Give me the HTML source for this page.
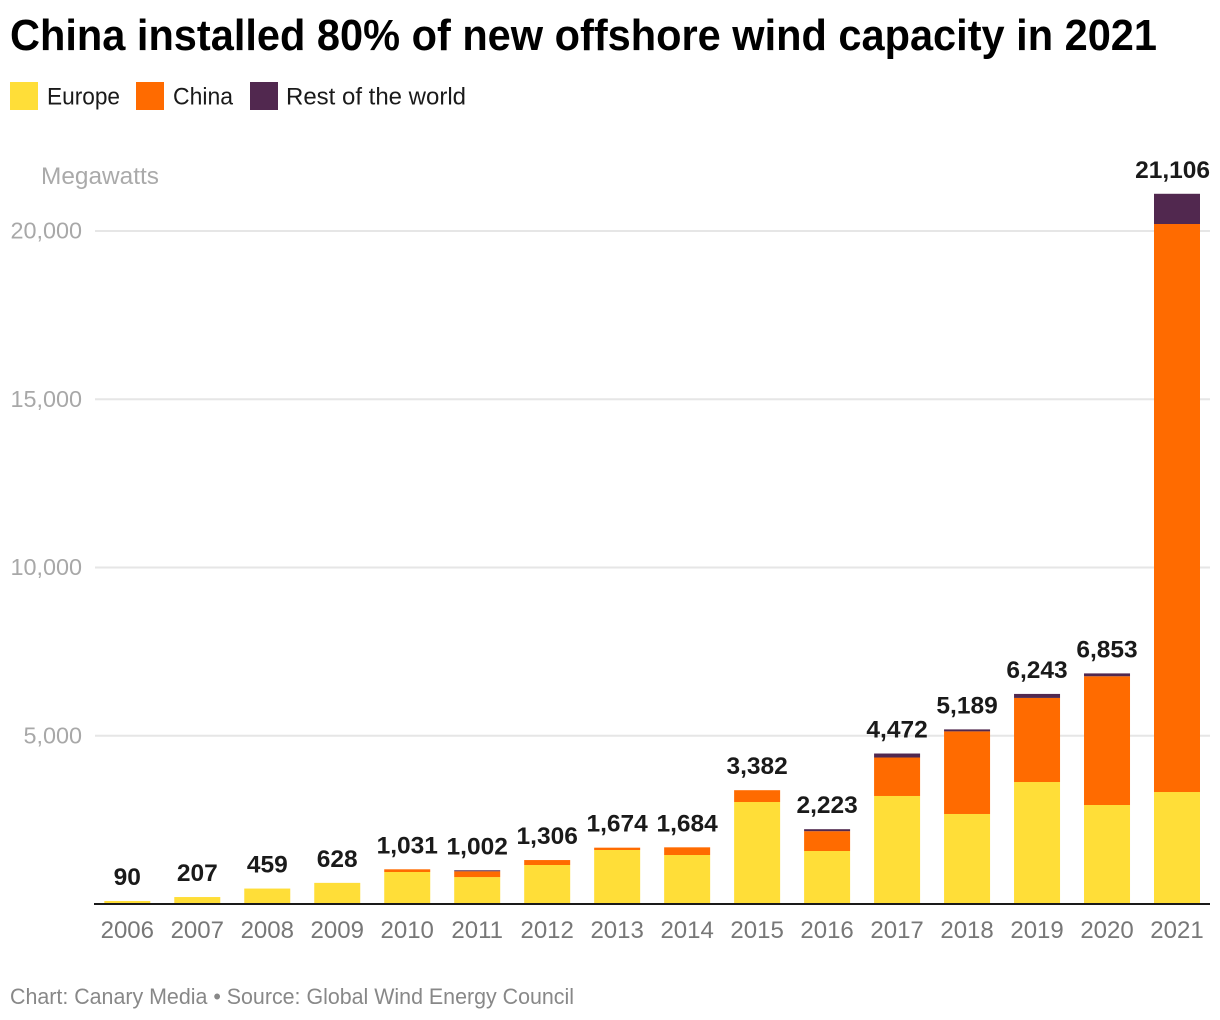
<!DOCTYPE html>
<html lang="en">
<head>
<meta charset="utf-8">
<title>China installed 80% of new offshore wind capacity in 2021</title>
<style>
html,body{margin:0;padding:0;background:#fff;width:1220px;height:1020px;overflow:hidden}
svg{display:block;font-family:"Liberation Sans",Arial,sans-serif}
</style>
</head>
<body>
<svg id="chart" xmlns="http://www.w3.org/2000/svg" width="1220" height="1020" viewBox="0 0 1220 1020">
  <rect x="0" y="0" width="1220" height="1020" fill="#ffffff"/>
  <text x="10" y="50" font-size="44" font-weight="700" fill="#000000" textLength="1147" lengthAdjust="spacingAndGlyphs">China installed 80% of new offshore wind capacity in 2021</text>
  <g>
    <g>
      <rect x="10" y="82" width="28" height="28" fill="#ffde38"/>
      <text x="47" y="104.5" font-size="24" fill="#1a1a1a" textLength="73" lengthAdjust="spacingAndGlyphs">Europe</text>
    </g>
    <g>
      <rect x="136" y="82" width="28" height="28" fill="#ff6b00"/>
      <text x="173" y="104.5" font-size="24" fill="#1a1a1a" textLength="60" lengthAdjust="spacingAndGlyphs">China</text>
    </g>
    <g>
      <rect x="250" y="82" width="28" height="28" fill="#51284f"/>
      <text x="286" y="104.5" font-size="24" fill="#1a1a1a" textLength="180" lengthAdjust="spacingAndGlyphs">Rest of the world</text>
    </g>
  </g>
  <text x="41" y="184" font-size="24" fill="#aaaaaa" textLength="118" lengthAdjust="spacingAndGlyphs">Megawatts</text>
  <g id="grid"></g>
  <g id="yticks"></g>
  <g id="bars"></g>
  <line x1="94" y1="904" x2="1210" y2="904" stroke="#1a1a1a" stroke-width="2"/>
  <g id="xticks"></g>
  <g id="totals"></g>
  <text x="10" y="1004" font-size="22" fill="#888888" textLength="564" lengthAdjust="spacingAndGlyphs">Chart: Canary Media • Source: Global Wind Energy Council</text>
</svg>
<script>
const years = ['2006','2007','2008','2009','2010','2011','2012','2013','2014','2015','2016','2017','2018','2019','2020','2021'];
const europe = [90,207,459,628,951,800,1159,1605,1456,3031,1575,3210,2675,3625,2942,3328];
const china = [0,0,0,0,80,172,147,69,228,351,589,1143,2455,2499,3826,16880];
const restOfWorld = [0,0,0,0,0,30,0,0,0,0,59,119,59,119,85,898];
const totalLabels = ['90','207','459','628','1,031','1,002','1,306','1,674','1,684','3,382','2,223','4,472','5,189','6,243','6,853','21,106'];
const yTickValues = [5000,10000,15000,20000];
const yTickLabels = ['5,000','10,000','15,000','20,000'];

const NS = 'http://www.w3.org/2000/svg';
const plotLeft = 95, plotRight = 1210, baseY = 904, pxPerUnit = 0.03365;
const firstCenter = 127.3, step = 69.98, barWidth = 46;
function yScale(v) { return baseY - v * pxPerUnit; }
function xScale(i) { return firstCenter + step * i; }
function make(tag, attrs, parent) {
  const el = document.createElementNS(NS, tag);
  for (const k in attrs) el.setAttribute(k, attrs[k]);
  parent.appendChild(el);
  return el;
}
const gridG = document.getElementById('grid');
const yTicksG = document.getElementById('yticks');
const barsG = document.getElementById('bars');
const xTicksG = document.getElementById('xticks');
const totalsG = document.getElementById('totals');

yTickValues.forEach(function (v, i) {
  const line = make('line', {x1: plotLeft, x2: plotRight, y1: yScale(v), y2: yScale(v), stroke: '#e6e6e6', 'stroke-width': 2}, gridG);
  
  
  const t = make('text', {x: 82, y: yScale(v) + 7.5, 'text-anchor': 'end', 'font-size': 23.4, fill: '#a8a8a8'}, yTicksG);
  
  
  t.textContent = yTickLabels[i];
});

years.forEach(function (year, i) {
  const left = xScale(i) - barWidth / 2;
  let running = 0;
  const e0 = running, e1 = running + europe[i];
  const eBar = make('rect', {x: left, y: yScale(e1), width: barWidth, height: yScale(e0) - yScale(e1), fill: '#ffde38'}, barsG);
  
  
  running = e1;
  const c1 = running + china[i];
  const cBar = make('rect', {x: left, y: yScale(c1), width: barWidth, height: yScale(running) - yScale(c1), fill: '#ff6b00'}, barsG);
  
  
  running = c1;
  const r1 = running + restOfWorld[i];
  const rBar = make('rect', {x: left, y: yScale(r1), width: barWidth, height: yScale(running) - yScale(r1), fill: '#51284f'}, barsG);
  
  
  running = r1;

  const xl = make('text', {x: xScale(i), y: 938, 'text-anchor': 'middle', 'font-size': 24, fill: '#777777'}, xTicksG);
  
  
  xl.textContent = year;

  const tl = make('text', {x: xScale(i), y: yScale(running) - 16, 'text-anchor': 'middle', 'font-size': 24.5, 'font-weight': 700, fill: '#1a1a1a'}, totalsG);
  
  
  tl.textContent = totalLabels[i];
  const w = tl.getComputedTextLength();
  if (xScale(i) + w / 2 > plotRight) tl.setAttribute('x', plotRight - w / 2);
});
</script>
</body>
</html>
